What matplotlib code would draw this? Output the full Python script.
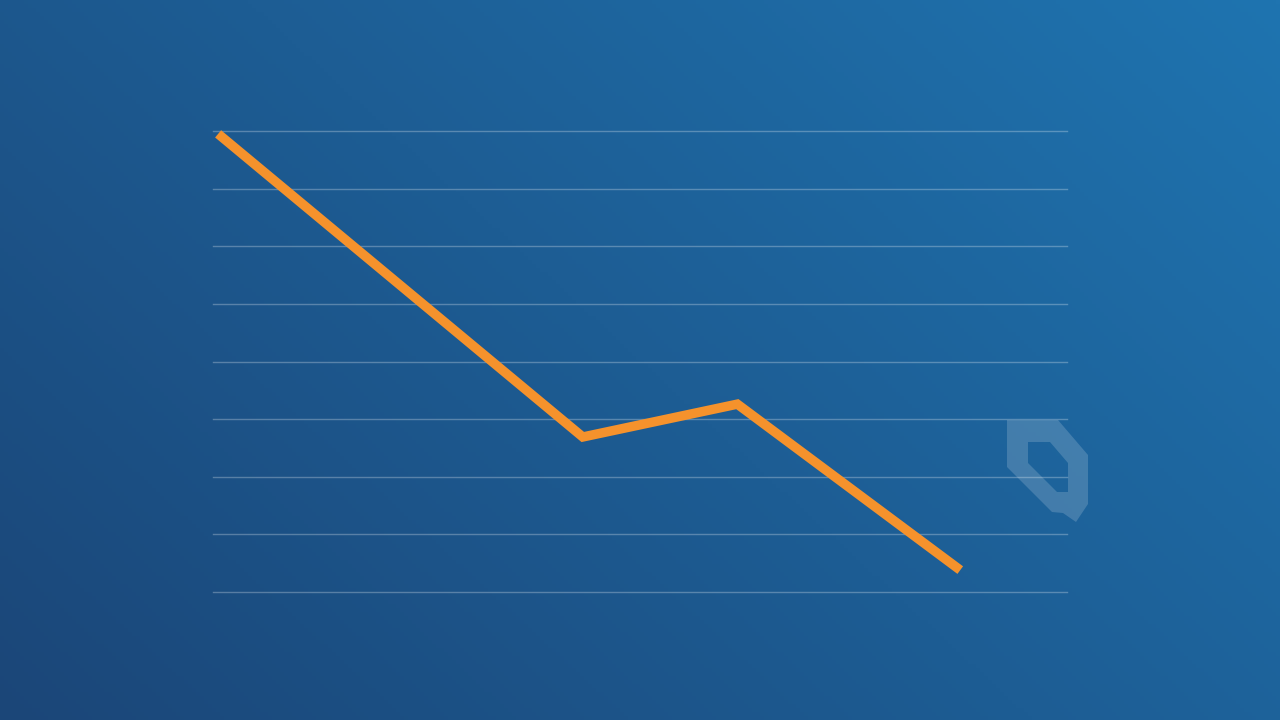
import numpy as np
import matplotlib
matplotlib.use("Agg")
import matplotlib.pyplot as plt
from matplotlib.path import Path
from matplotlib.patches import PathPatch

# data (value scale 0-80, gridline every 10; x on a 0-100 scale)
x_vals = [0.6, 43.3, 61.4, 87.5]
y_vals = [79.5, 26.9, 32.6, 3.8]
grid_levels = [0, 10, 20, 30, 40, 50, 60, 70, 80]

LINE_COLOR = "#F5922C"

W, H = 1280, 720
fig = plt.figure(figsize=(W / 100, H / 100), dpi=100)

# background gradient: dark navy bottom-left -> lighter blue top-right
bg = fig.add_axes([0, 0, 1, 1])
bg.set_axis_off()
gx, gy = np.meshgrid(np.linspace(0, 1, 320), np.linspace(0, 1, 180))
t = np.clip(0.62 * gx + 0.38 * gy, 0, 1)
dark = np.array([27, 70, 120]) / 255
light = np.array([31, 116, 176]) / 255
img = dark[None, None, :] * (1 - t[..., None]) + light[None, None, :] * t[..., None]
bg.imshow(img, origin="lower", extent=[0, 1, 0, 1], aspect="auto")
bg.set_xlim(0, 1)
bg.set_ylim(0, 1)

# faint watermark logo (pixel coords of the figure)
outer = [(1007, 420), (1058, 420), (1088, 455), (1088, 504), (1076, 522),
         (1063, 513), (1052, 512), (1007, 467), (1007, 420)]
inner = [(1028, 442), (1050, 442), (1068, 463), (1068, 492), (1057, 492),
         (1028, 463), (1028, 442)]
verts = [(px / W, 1 - py / H) for px, py in outer] + \
        [(px / W, 1 - py / H) for px, py in inner[::-1]]
codes = [Path.MOVETO] + [Path.LINETO] * (len(outer) - 2) + [Path.CLOSEPOLY] + \
        [Path.MOVETO] + [Path.LINETO] * (len(inner) - 2) + [Path.CLOSEPOLY]
bg.add_patch(PathPatch(Path(verts, codes), facecolor="white", alpha=0.17,
                       edgecolor="none", transform=bg.transAxes))

# chart area
ax = fig.add_axes([213 / W, (H - 592) / H, 854 / W, 461 / H])
ax.patch.set_alpha(0)
for s in ax.spines.values():
    s.set_visible(False)
ax.set_xlim(0, 100)
ax.set_ylim(0, 80)
ax.set_xticks([])
ax.set_yticks([])
for lvl in grid_levels:
    ax.axhline(lvl, color="white", alpha=0.27, lw=1.0, zorder=1, clip_on=False)

ax.plot(x_vals, y_vals, color=LINE_COLOR, lw=6.8, solid_joinstyle="miter",
        solid_capstyle="butt", zorder=3, clip_on=False)

fig.savefig("out.png", dpi=100)
